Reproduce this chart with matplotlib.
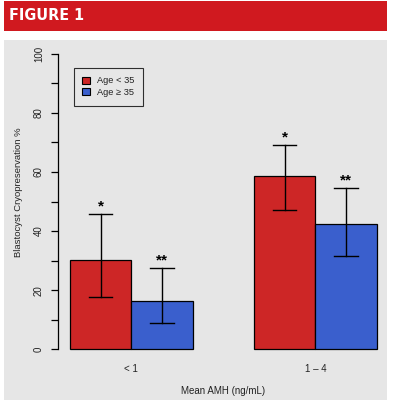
import matplotlib
matplotlib.use("Agg")
import matplotlib.pyplot as plt
from matplotlib.patches import Rectangle, Patch
import numpy as np

categories = ["< 1", "1 \u2013 4"]
series_names = ["Age < 35", "Age \u2265 35"]
values_young = [30.1, 58.5]
values_old = [16.2, 42.5]
lower_young = [17.8, 47.0]
upper_young = [45.7, 69.0]
lower_old = [8.8, 31.5]
upper_old = [27.4, 54.5]
stars = ["*", "**"]

RED = "#CD2626"
BLUE = "#3A5FCD"
HEAD = "#D0191F"
PANEL = "#E6E6E6"
TXT = "#222222"
plt.rcParams["font.family"] = ["Liberation Sans", "DejaVu Sans"]

W, H = 394, 403
fig = plt.figure(figsize=(W / 100, H / 100), dpi=100)
fig.patch.set_facecolor("white")

def fx(px):
    return px / W

def fy(py):
    return 1 - py / H

# header band and panel
fig.patches.append(Rectangle((fx(4), fy(31)), fx(383), 30 / H, transform=fig.transFigure,
                             facecolor=HEAD, edgecolor="none", zorder=-5))
fig.text(fx(9), fy(16), "FIGURE 1", color="white", fontsize=11.5, fontweight="bold",
         fontstretch="condensed", family=["DejaVu Sans"], va="center", ha="left")
fig.patches.append(Rectangle((fx(4), fy(400)), fx(383), 360 / H, transform=fig.transFigure,
                             facecolor=PANEL, edgecolor="none", zorder=-5))

# axes region (R style: x from 0.8 to 6.2, y from -4 to 104)
left, right = 57.8, 388.9
top, bottom = 41.9, 361.1
ax = fig.add_axes([fx(left), fy(bottom), fx(right - left), (bottom - top) / H])
ax.set_zorder(2)
ax.set_facecolor("none")
ax.set_xlim(0.8, 6.2)
ax.set_ylim(-4, 104)

x_young = np.array([1.5, 4.5])
x_old = np.array([2.5, 5.5])
ax.bar(x_young, values_young, width=1.0, color=RED, edgecolor="black", linewidth=0.9, zorder=2)
ax.bar(x_old, values_old, width=1.0, color=BLUE, edgecolor="black", linewidth=0.9, zorder=2)

cap = 0.19
for xs, lo, hi, st in [(x_young, lower_young, upper_young, stars[0]),
                       (x_old, lower_old, upper_old, stars[1])]:
    for x, l, h in zip(xs, lo, hi):
        ax.plot([x, x], [l, h], color="black", lw=1.0, zorder=3)
        ax.plot([x - cap, x + cap], [l, l], color="black", lw=1.0, zorder=3)
        ax.plot([x - cap, x + cap], [h, h], color="black", lw=1.0, zorder=3)
        ax.text(x, h + 0.3, st, ha="center", va="bottom", fontsize=11, color="black",
                fontweight="bold")

for s in ["top", "right", "bottom"]:
    ax.spines[s].set_visible(False)
ax.spines["left"].set_bounds(0, 100)
ax.spines["left"].set_linewidth(0.9)
ax.set_yticks(np.arange(0, 101, 10))
ax.set_yticklabels([str(v) if v % 20 == 0 else "" for v in range(0, 101, 10)],
                   rotation=90, va="center", fontsize=7, color=TXT)
ax.tick_params(axis="y", length=5, width=0.9, pad=5)
ax.set_xticks((x_young + x_old) / 2)
ax.set_xticklabels(categories, fontsize=7, color=TXT)
ax.tick_params(axis="x", length=0, pad=2)
ax.set_xlabel("Mean AMH (ng/mL)", fontsize=7, color=TXT, labelpad=9)
ax.set_ylabel("Blastocyst Cryopreservation %", fontsize=6.8, color=TXT)
ax.yaxis.set_label_coords((23 - left) / (right - left), (bottom - 192) / (bottom - top))

handles = [Patch(facecolor=RED, edgecolor="black", linewidth=0.8),
           Patch(facecolor=BLUE, edgecolor="black", linewidth=0.8)]
leg = ax.legend(handles, series_names, loc="upper left",
                bbox_to_anchor=(fx(74), fy(68)), bbox_transform=fig.transFigure,
                fontsize=6.7, frameon=True, fancybox=False, edgecolor="black",
                facecolor="none", handlelength=0.8, handleheight=0.8,
                handletextpad=0.8, borderpad=0.9, labelspacing=0.3, borderaxespad=0)
leg.get_frame().set_linewidth(0.8)
for t in leg.get_texts():
    t.set_color(TXT)

fig.savefig("out.png", dpi=100, facecolor="white")
